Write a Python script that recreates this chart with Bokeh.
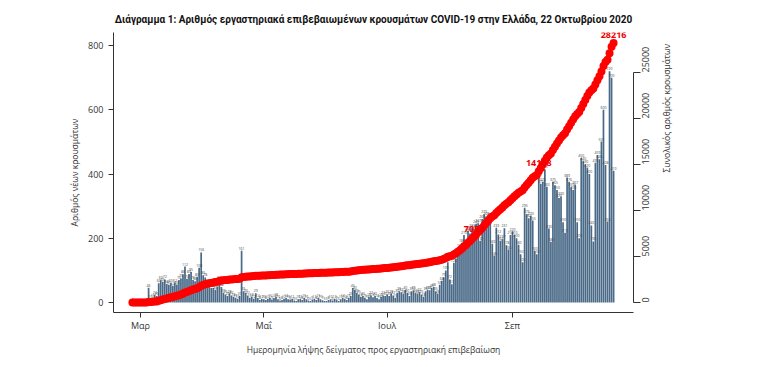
import math
import numpy as np
import pandas as pd
from bokeh.plotting import figure
from bokeh.models import ColumnDataSource, Range1d, LinearAxis, FixedTicker
from bokeh.embed import file_html
from bokeh.resources import INLINE
from bokeh.core.properties import value

# ---------------- data ----------------
start_date = "2020-02-26"
end_date = "2020-10-21"
feb = [2, 0, 0, 0]
mar = [0, 0, 0, 3, 46, 10, 15, 24, 20, 60, 69, 65, 72, 58, 55, 60, 52, 62, 56, 70,
       75, 88, 112, 74, 89, 95, 70, 66, 80, 108, 156]
apr = [85, 78, 62, 50, 45, 45, 40, 50, 69, 48, 30, 25, 20, 28, 22, 18, 15, 12, 20, 161,
       35, 30, 22, 15, 18, 12, 29, 14, 8, 12]
may = [10, 8, 12, 15, 9, 14, 18, 10, 6, 8, 12, 14, 10, 9, 12, 6, 5, 10, 12, 8,
       15, 10, 6, 5, 9, 12, 8, 15, 10, 7, 5]
jun = [5, 8, 10, 6, 12, 9, 5, 10, 14, 12, 8, 15, 20, 45, 40, 30, 25, 18, 20, 15,
       10, 18, 22, 16, 20, 14, 10, 18, 22, 20]
jul = [25, 20, 28, 22, 15, 30, 35, 32, 28, 40, 30, 20, 35, 38, 30, 28, 32, 25, 18, 35,
       40, 38, 45, 48, 35, 28, 55, 68, 79, 100, 125]
aug = [72, 57, 124, 137, 156, 169, 186, 210, 183, 223, 215, 232, 229, 245, 247, 192, 260, 275, 268, 255,
       265, 183, 146, 233, 212, 192, 197, 231, 178, 165, 210]
sep = [220, 210, 200, 180, 150, 125, 295, 275, 262, 270, 255, 160, 150, 390, 370, 375, 415, 360, 230, 189,
       375, 365, 350, 325, 330, 250, 217, 389, 376, 359]
octo = [350, 367, 250, 200, 450, 440, 430, 420, 400, 240, 190, 435, 459, 446, 501, 600, 428, 252, 720, 700,
        410]

tick_dates = ["2020-03-01", "2020-05-01", "2020-07-01", "2020-09-01"]
tick_labels = ["Μαρ", "Μαΐ", "Ιουλ", "Σεπ"]
left_ticks = [0, 200, 400, 600, 800]
right_ticks = [0, 5000, 10000, 15000, 20000, 25000]

mark_dates = ["2020-08-13", "2020-09-14", "2020-10-21"]
mark_texts = ["7054", "14108", "28216"]

title_text = "Διάγραμμα 1: Αριθμός εργαστηριακά επιβεβαιωμένων κρουσμάτων COVID-19 στην Ελλάδα, 22 Οκτωβρίου 2020"
ylab = "Αριθμός νέων κρουσμάτων"
y2lab = "Συνολικός αριθμός κρουσμάτων"
xlab = "Ημερομηνία λήψης δείγματος προς εργαστηριακή επιβεβαίωση"

# ---------------- build ----------------
origin = pd.Timestamp("2020-03-01")
dates = pd.date_range(start_date, end_date, freq="D")
daily = np.array(feb + mar + apr + may + jun + jul + aug + sep + octo)
day = (dates - origin).days.to_numpy()
cum = np.cumsum(daily)

src = ColumnDataSource(dict(day=day, daily=daily, cum=cum, lab=[str(v) for v in daily]))

mday = np.array([(pd.Timestamp(d) - origin).days for d in mark_dates])
mcum = [int(cum[list(day).index(d)]) for d in mday]
msrc = ColumnDataSource(dict(day=mday, cum=mcum, txt=mark_texts))

FONT = "Open Sans"
p = figure(width=774, height=367, output_backend="svg", toolbar_location=None,
           x_range=Range1d(-13.36, 243.85), y_range=Range1d(-31.1, 840.5),
           min_border_left=113, min_border_right=141, min_border_top=32, min_border_bottom=55)
p.extra_y_ranges = {"cum": Range1d(-1087, 29348)}

p.title.text = title_text
p.title.text_font = "Roboto"
p.title.text_font_size = "10px"
p.title.text_font_style = "bold"
p.title.align = "center"
p.title.standoff = 16
p.title.text_color = "#111111"

p.outline_line_color = None
p.xgrid.visible = False
p.ygrid.visible = False
p.background_fill_color = "white"

bar_color = "#4a6a88"
p.vbar(x="day", top="daily", width=0.85, source=src, fill_color=bar_color, line_color=None)
p.text(x="day", y="daily", text="lab", source=src, text_font=value(FONT), text_font_size="3.5px",
       text_align="center", text_baseline="bottom", y_offset=-1, text_color="#444444")
p.scatter(x="day", y="cum", source=src, y_range_name="cum", size=8, fill_color="#ff0000",
          line_color=None)
p.text(x="day", y="cum", text="txt", source=msrc, y_range_name="cum", text_font=value(FONT),
       text_font_size="9px", text_font_style="bold", text_color="#ee0000",
       text_align="center", text_baseline="middle", y_offset=-8)

def style(ax):
    ax.axis_line_color = "#333333"
    ax.major_tick_line_color = "#333333"
    ax.minor_tick_line_color = None
    ax.major_label_text_font = FONT
    ax.major_label_text_font_size = "9px"
    ax.major_label_text_color = "#333333"
    ax.axis_label_text_font = FONT
    ax.axis_label_text_font_size = "8.5px"
    ax.axis_label_text_font_style = "normal"
    ax.axis_label_text_color = "#333333"

xax = p.xaxis[0]
style(xax)
xax.ticker = FixedTicker(ticks=[int((pd.Timestamp(d) - origin).days) for d in tick_dates])
xax.major_label_overrides = {int((pd.Timestamp(d) - origin).days): t for d, t in zip(tick_dates, tick_labels)}
xax.major_tick_out = 5
xax.major_tick_in = 0
xax.major_label_standoff = 1
xax.axis_label = xlab
xax.axis_label_standoff = 9

yax = p.yaxis[0]
style(yax)
yax.ticker = FixedTicker(ticks=left_ticks)
yax.major_tick_out = 5
yax.major_tick_in = 0
yax.major_label_standoff = 5
yax.axis_label = ylab
yax.axis_label_standoff = 5

rax = LinearAxis(y_range_name="cum", ticker=FixedTicker(ticks=right_ticks), bounds=(0, 25000))
style(rax)
rax.major_tick_out = 7
rax.major_tick_in = 0
rax.major_label_orientation = math.pi / 2
rax.major_label_standoff = 5
rax.axis_label = y2lab
rax.axis_label_orientation = math.pi / 2
rax.axis_label_standoff = 11
p.add_layout(rax, "right")

open("out.html", "w").write(file_html(p, INLINE))
